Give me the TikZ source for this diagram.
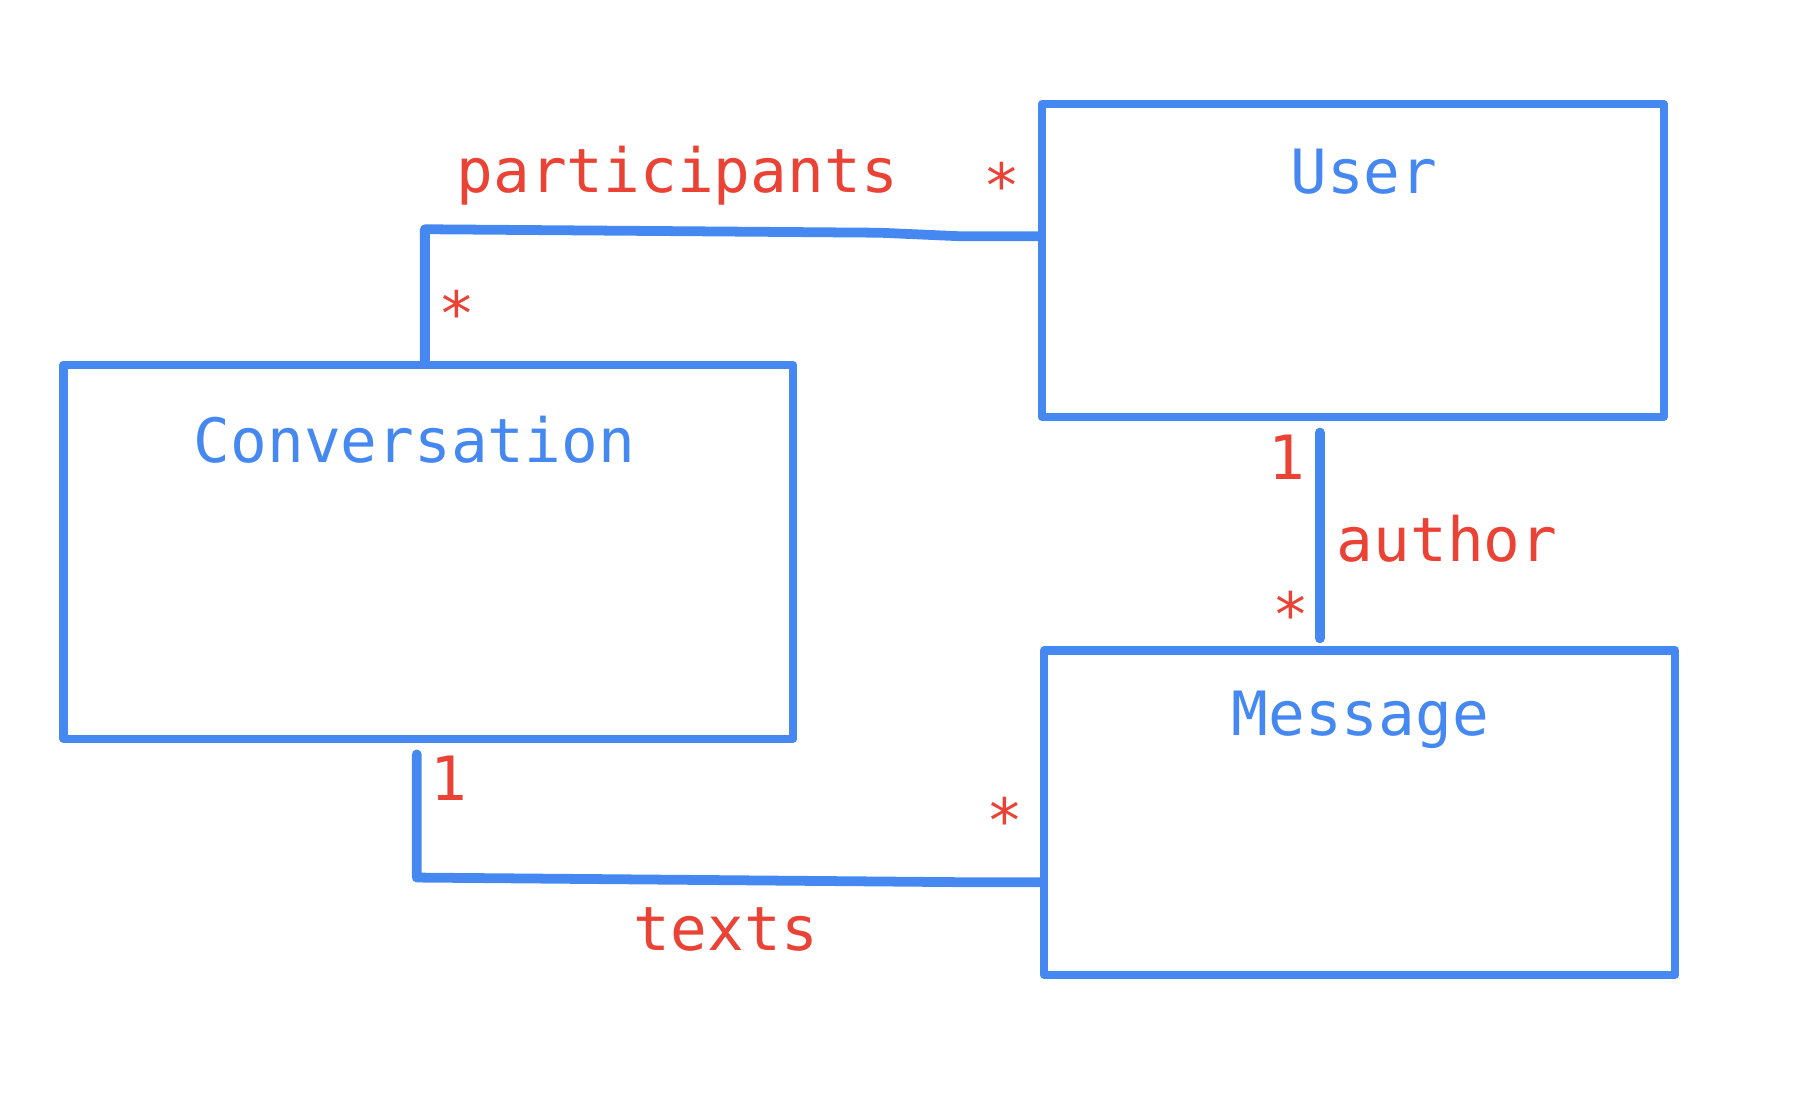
\documentclass[tikz,border=0pt]{standalone}
\usepackage{fontspec}
\setmonofont{DejaVu Sans Mono}
\usetikzlibrary{calc}
\definecolor{umlblue}{HTML}{4688F1}
\definecolor{umlred}{HTML}{EA4335}
\begin{document}
\begin{tikzpicture}[x=0.01cm, y=-0.01cm,
    box/.style={draw=umlblue, line width=2pt, inner sep=0pt, line join=round},
    title/.style={text=umlblue, font=\ttfamily\fontsize{15}{18}\selectfont},
    role/.style={text=umlred, font=\ttfamily\fontsize{15}{18}\selectfont},
    link/.style={umlblue, line width=2.4pt, line cap=round, line join=round}]

        % page frame
        \useasboundingbox (0,0) rectangle (1560,947);

        % classes
        \node[box, minimum width=6.3cm, minimum height=3.23cm] (conv) at (370,476.5) {};
        \node[box, minimum width=5.37cm, minimum height=2.7cm] (user) at (1168.5,225) {};
        \node[box, minimum width=5.45cm, minimum height=2.8cm] (msg) at (1174.5,702) {};

        \node[title] (convname) at (358,380) {Conversation};
        \node[title] (username) at (1178,148) {User};
        \node[title] (msgname) at (1175,622) {Message};

        % connector end points
        \coordinate (p1) at (367,198);
        \coordinate (p2) at (828,204);
        \coordinate (t1) at (360,758);
        \coordinate (t2) at (830,762);

        \draw[link] (conv.north -| p1) -- (p1) -- (760,201) -- (p2) -- (user.west |- p2);
        \draw[link] (user.south -| 1140,0) ++(0,10) coordinate (a1) -- ($(msg.north -| 1140,0)+(0,-7)$) coordinate (a2);
        \draw[link] ($(conv.south -| t1)+(0,10)$) -- (t1) -- (t2) -- (msg.west |- t2);

        % role names and multiplicities
        \node[role] (partlabel) at (585,152) {participants};
        \node[role] (partuser) at (865,160) {*};
        \node[role] (partconv) at (395,270) {*};
        \node[role] (authuser) at (1112,395) {1};
        \node[role] (authlabel) at (1250,465) {author};
        \node[role] (authmsg) at (1115,530) {*};
        \node[role] (textconv) at (388,672) {1};
        \node[role] (textmsg) at (868,708) {*};
        \node[role] (textlabel) at (627,803) {texts};

\end{tikzpicture}
\end{document}
